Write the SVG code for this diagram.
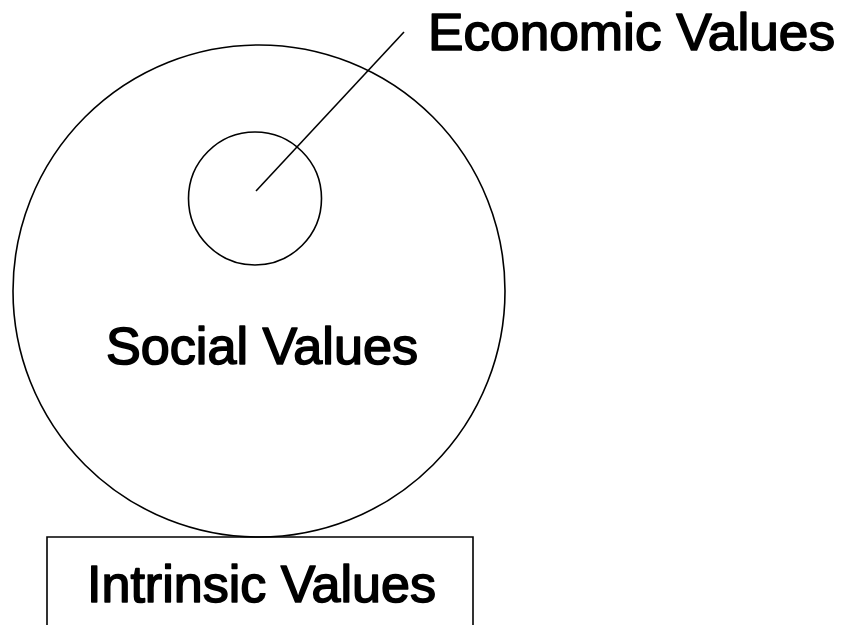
<svg xmlns="http://www.w3.org/2000/svg" width="848" height="625" viewBox="0 0 848 625">
<style>
.shape{fill:none;stroke:#000;stroke-width:1.6}
.lbl{font-family:"Liberation Sans",Arial,sans-serif;font-size:52px;fill:#000;stroke:#000;stroke-width:1.6;stroke-linejoin:round}
</style>
<rect width="848" height="625" fill="#fff"/>
<g id="social">
<circle class="shape" cx="259" cy="291" r="246"/>
<text class="lbl" x="106" y="364" textLength="312" lengthAdjust="spacingAndGlyphs">Social Values</text>
</g>
<g id="economic">
<circle class="shape" cx="255" cy="198.5" r="66.5"/>
<text class="lbl" x="428" y="50" textLength="407" lengthAdjust="spacingAndGlyphs">Economic Values</text>
</g>
<g id="intrinsic">
<path class="shape" d="M47,628 V537 H473 V628"/>
<text class="lbl" x="87" y="602" textLength="349" lengthAdjust="spacingAndGlyphs">Intrinsic Values</text>
</g>
<g id="connectors">
<line class="shape" x1="256" y1="191" x2="404" y2="32" stroke-width="1.3"/>
</g>
</svg>
